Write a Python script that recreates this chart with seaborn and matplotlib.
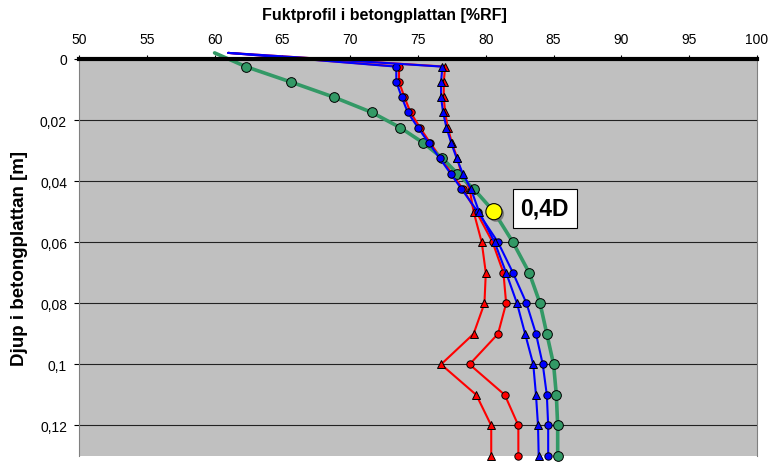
import matplotlib.pyplot as plt
import matplotlib.patheffects as pe
import seaborn as sns

# Depth below surface [m]; first value is the surface point (drawn without marker)
depth = [-0.002, 0.0025, 0.0075, 0.0125, 0.0175, 0.0225, 0.0275, 0.0325, 0.0375,
         0.0425, 0.05, 0.06, 0.07, 0.08, 0.09, 0.10, 0.11, 0.12, 0.13]

# Moisture profiles [%RF]
rf_red_circ = [61.0, 73.6, 73.6, 74.0, 74.45, 75.15, 75.9, 76.7, 77.5, 78.3,
               79.3, 80.5, 81.3, 81.5, 80.9, 78.8, 81.4, 82.4, 82.4]
rf_red_tri = [61.0, 77.0, 76.9, 76.9, 77.0, 77.2, 77.5, 77.9, 78.2, 78.8,
              79.1, 79.7, 80.0, 79.9, 79.1, 76.7, 79.3, 80.4, 80.4]
rf_green = [60.0, 62.3, 65.6, 68.8, 71.6, 73.7, 75.4, 76.8, 77.9, 79.1,
            80.6, 82.0, 83.2, 84.0, 84.5, 85.0, 85.2, 85.3, 85.3]
rf_blue_circ = [61.0, 73.4, 73.4, 73.8, 74.25, 75.0, 75.8, 76.6, 77.4, 78.2,
                79.4, 80.9, 82.0, 83.0, 83.7, 84.2, 84.5, 84.6, 84.6]
rf_blue_tri = [61.0, 76.8, 76.7, 76.7, 76.85, 77.1, 77.45, 77.85, 78.3, 78.9,
               79.5, 80.65, 81.5, 82.3, 82.9, 83.5, 83.7, 83.85, 83.9]

# 0,4D point
rf_04d = [80.6]
depth_04d = [0.05]
label_04d = "0,4D"

x_ticks = list(range(50, 101, 5))
y_ticks = [0, 0.02, 0.04, 0.06, 0.08, 0.10, 0.12]
y_ticklabels = ["0", "0,02", "0,04", "0,06", "0,08", "0,1", "0,12"]

sns.set_style("ticks")
plt.rcParams['font.family'] = ['Liberation Sans', 'DejaVu Sans']

fig, ax = plt.subplots(figsize=(7.72, 4.64), dpi=100)
fig.subplots_adjust(left=0.1023, right=0.9806, top=0.8707, bottom=0.0151)
ax.set_facecolor('#c0c0c0')

series = [
    (rf_red_circ, '#ff0000', 'o', 1.5, 5.3),
    (rf_red_tri, '#ff0000', '^', 1.5, 5.6),
    (rf_green, '#339966', 'o', 2.6, 7.0),
    (rf_blue_circ, '#0000ff', 'o', 1.5, 5.3),
    (rf_blue_tri, '#0000ff', '^', 1.5, 5.6),
]
for vals, col, mk, lw, ms in series:
    sns.lineplot(x=vals, y=depth, ax=ax, sort=False, estimator=None,
                 color=col, linewidth=lw, marker=mk, markersize=ms,
                 markerfacecolor=col, markeredgecolor='black', markeredgewidth=0.7,
                 markevery=slice(1, None), clip_on=False, zorder=3)

# 0,4D marker with shadow and label box
sns.scatterplot(x=rf_04d, y=depth_04d, ax=ax, s=135, color='#ffff00',
                edgecolor='black', linewidth=0.8, zorder=6, clip_on=False,
                path_effects=[pe.withSimplePatchShadow(offset=(1.5, -1.5),
                                                       shadow_rgbFace='#707070',
                                                       alpha=0.8)])
ax.text(84.35, 0.0489, label_04d, fontsize=16.5, fontweight='bold', color='black',
        ha='center', va='center', zorder=7,
        bbox=dict(boxstyle='square,pad=0.35', fc='white', ec='black', lw=0.8))

# Axes
ax.set_xlim(50, 100)
ax.set_xticks(x_ticks)
ax.set_ylim(0.13, 0)
ax.set_yticks(y_ticks)
ax.set_yticklabels(y_ticklabels)

ax.xaxis.tick_top()
ax.xaxis.set_label_position('top')
ax.tick_params(axis='x', top=True, bottom=False, length=3, width=0.8, pad=6,
               labelsize=10, labelcolor='black', color='black', direction='out')
ax.tick_params(axis='y', length=3.6, width=0.8, pad=5, labelsize=10,
               labelcolor='black', color='black', direction='out')

ax.set_axisbelow(True)
ax.yaxis.grid(True, color='#222222', linewidth=0.8)
ax.xaxis.grid(False)

# thick surface line drawn over the series lines
ax.spines['top'].set_linewidth(3)
ax.spines['top'].set_color('black')
ax.spines['top'].set_zorder(4)
for s in ['left', 'right']:
    ax.spines[s].set_color('#808080')
    ax.spines[s].set_linewidth(0.8)
ax.spines['bottom'].set_visible(False)

ax.set_xlabel("Fuktprofil i betongplattan [%RF]", fontsize=11.5,
              fontweight='bold', color='black')
ax.xaxis.set_label_coords(0.451, 1.0995)
ax.set_ylabel("Djup i betongplattan [m]", fontsize=13.5,
              fontweight='bold', color='black')
ax.yaxis.set_label_coords(-0.0752, 0.5)

plt.savefig("out.png", dpi=100)
